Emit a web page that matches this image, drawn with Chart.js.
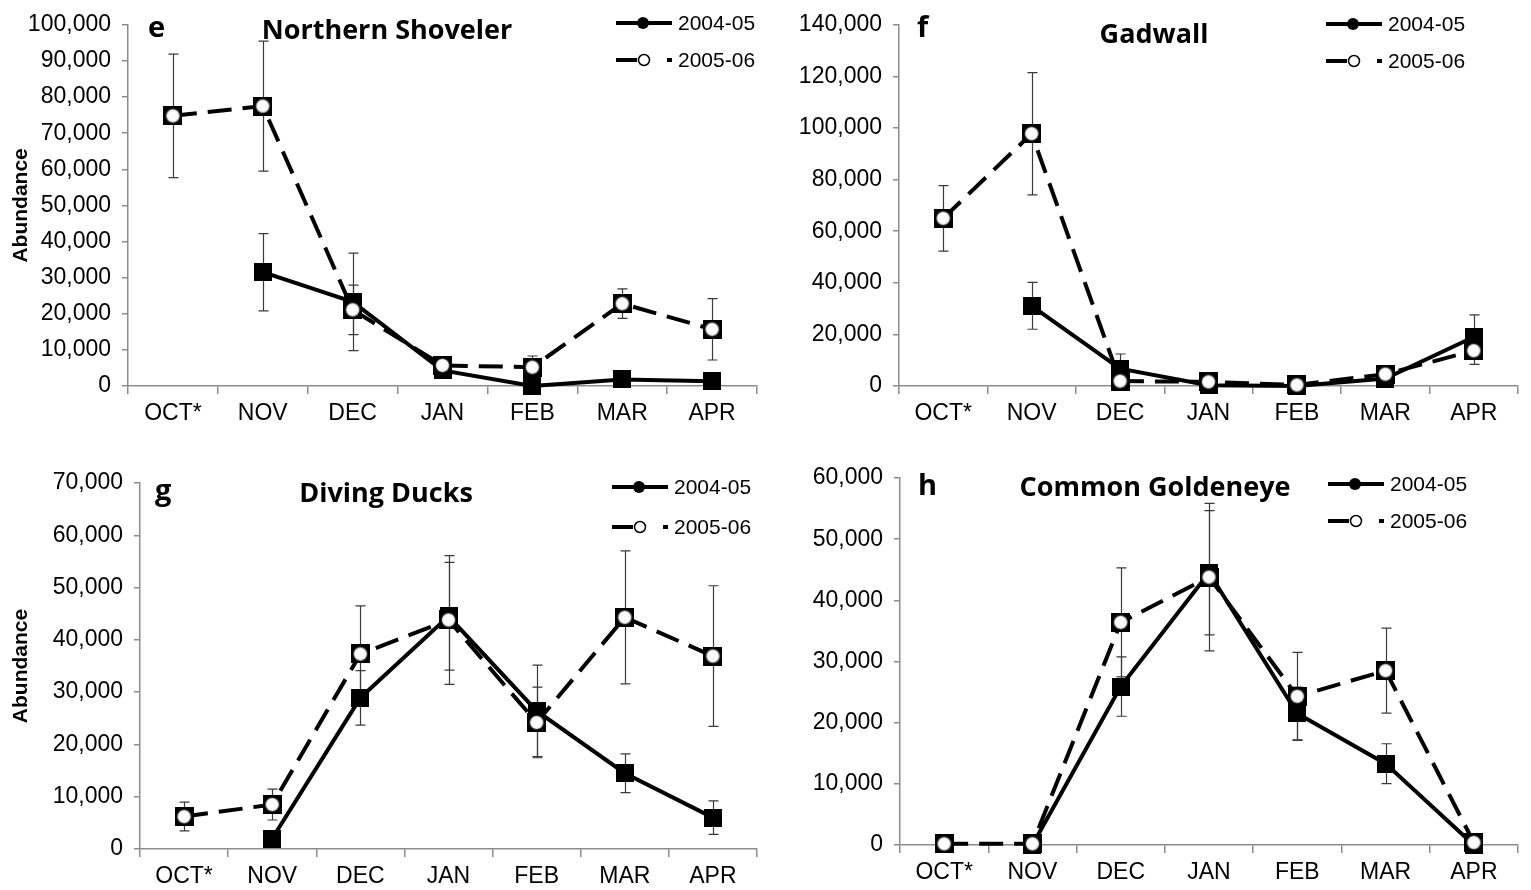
<!DOCTYPE html>
<html>
<head>
<meta charset="utf-8">
<title>Monthly waterfowl abundance, 2004-05 and 2005-06</title>
<script src="https://cdn.jsdelivr.net/npm/chart.js@4/dist/chart.umd.min.js"></script>
<style>
  html, body { margin: 0; padding: 0; background: #fff; }
  #wrap { position: relative; width: 1531px; height: 890px; overflow: hidden; }
  #wrap canvas { position: absolute; }
</style>
</head>
<body>
<div id="wrap">
  <canvas id="panelE" width="770" height="445" style="left:0;top:0"></canvas>
  <canvas id="panelF" width="761" height="445" style="left:770px;top:0"></canvas>
  <canvas id="panelG" width="770" height="445" style="left:0;top:445px"></canvas>
  <canvas id="panelH" width="761" height="445" style="left:770px;top:445px"></canvas>
</div>
<script>
// Survey months and seasons
const months = ['OCT*', 'NOV', 'DEC', 'JAN', 'FEB', 'MAR', 'APR'];
const seasons = ['2004-05', '2005-06'];

// e: Northern Shoveler (mean abundance and error-bar half-width)
const shovelerMean0405 = [null, 31500, 23300, 4300, 0, 1800, 1300];
const shovelerErr0405  = [null, 10700, 13500, 1000, 0, 600, 500];
const shovelerMean0506 = [74800, 77500, 21100, 5700, 5200, 22800, 15700];
const shovelerErr0506  = [17100, 18000, 6850, 1000, 3100, 4100, 8500];

// f: Gadwall
const gadwallMean0405 = [null, 31100, 6700, 300, 0, 2900, 19000];
const gadwallErr0405  = [null, 9100, 5700, 0, 0, 500, 8600];
const gadwallMean0506 = [65000, 97800, 1900, 1600, 400, 4600, 13700];
const gadwallErr0506  = [12700, 23700, 1000, 500, 300, 1000, 5300];

// g: Diving Ducks
const divingMean0405 = [null, 2000, 28900, 44500, 26400, 14500, 6000];
const divingErr0405  = [null, 800, 5200, 10300, 8750, 3700, 3200];
const divingMean0506 = [6200, 8500, 37300, 43800, 24200, 44300, 36900];
const divingErr0506  = [2750, 2950, 9200, 12300, 6750, 12700, 13450];

// h: Common Goldeneye
const goldeneyeMean0405 = [null, 0, 25900, 44500, 21500, 13300, 0];
const goldeneyeErr0405  = [null, 0, 4850, 10150, 4300, 3250, 0];
const goldeneyeMean0506 = [200, 200, 36400, 43800, 24300, 28500, 400];
const goldeneyeErr0506  = [0, 0, 8900, 12050, 7200, 6950, 0];

// Y-axis ranges (max, step)
const shovelerAxis  = [100000, 10000];
const gadwallAxis   = [140000, 20000];
const divingAxis    = [70000, 10000];
const goldeneyeAxis = [60000, 10000];

const TICK_FONT = "'Liberation Sans', Arial, sans-serif";
const TITLE_FONT = "'Open Sans', Lato, sans-serif";
const AXIS_GREY = '#8c8c8c';

// Marker images: solid square for 2004-05, square with white disc for 2005-06
function solidSquare(size) {
  const c = document.createElement('canvas');
  c.width = c.height = size;
  const g = c.getContext('2d');
  g.fillStyle = '#000';
  g.fillRect(0, 0, size, size);
  return c;
}
function squareWithDisc(size, r) {
  const c = document.createElement('canvas');
  c.width = c.height = size;
  const g = c.getContext('2d');
  g.fillStyle = '#000';
  g.fillRect(0, 0, size, size);
  const grad = g.createRadialGradient(size / 2 - 1, size / 2 - 1, 1, size / 2, size / 2, r);
  grad.addColorStop(0, '#ffffff');
  grad.addColorStop(0.7, '#fafafa');
  grad.addColorStop(1, '#d9d9d9');
  g.beginPath();
  g.arc(size / 2, size / 2, r, 0, Math.PI * 2);
  g.fillStyle = grad;
  g.fill();
  g.lineWidth = 1;
  g.strokeStyle = '#222';
  g.stroke();
  return c;
}
const markerA = solidSquare(18);
const markerB = squareWithDisc(19, 7);

// Vertical error bars, drawn under the lines and markers
const errorBars = {
  id: 'errorBars',
  beforeDatasetsDraw(chart) {
    const { ctx } = chart;
    const x = chart.scales.x, y = chart.scales.y;
    ctx.save();
    ctx.strokeStyle = '#3a3a3a';
    ctx.lineWidth = 1.2;
    chart.data.datasets.forEach(ds => {
      if (!ds.errors) return;
      ds.data.forEach((v, i) => {
        const e = ds.errors[i];
        if (v == null || !e) return;
        const px = Math.round(x.getPixelForValue(i)) + 0.5;
        const top = y.getPixelForValue(v + e);
        const bot = y.getPixelForValue(Math.max(v - e, 0));
        ctx.beginPath();
        ctx.moveTo(px, top); ctx.lineTo(px, bot);
        ctx.moveTo(px - 5, top); ctx.lineTo(px + 5, top);
        ctx.moveTo(px - 5, bot); ctx.lineTo(px + 5, bot);
        ctx.stroke();
      });
    });
    ctx.restore();
  }
};

// Panel letter, species title and the in-plot legend
const panelDecor = {
  id: 'panelDecor',
  afterDraw(chart, args, o) {
    const { ctx } = chart;
    ctx.save();
    ctx.fillStyle = '#000';
    ctx.textBaseline = 'alphabetic';
    ctx.font = 'bold 29px ' + TITLE_FONT;
    ctx.textAlign = 'left';
    ctx.fillText(o.letter, o.letterX, o.letterBase);
    ctx.font = 'bold 27px ' + TITLE_FONT;
    ctx.textAlign = 'center';
    ctx.fillText(o.title, o.titleX, o.titleBase);

    // legend
    const ds = chart.data.datasets;
    const lx = o.legendX - 62;
    ctx.font = '21px ' + TICK_FONT;
    ctx.textAlign = 'left';
    ctx.textBaseline = 'middle';
    ctx.strokeStyle = '#000';
    ctx.lineWidth = 4;
    // row 1: solid line with filled dot
    let ly = o.legendY[0];
    ctx.beginPath(); ctx.moveTo(lx, ly); ctx.lineTo(lx + 56, ly); ctx.stroke();
    ctx.beginPath(); ctx.arc(lx + 27, ly, 6, 0, Math.PI * 2); ctx.fillStyle = '#000'; ctx.fill();
    ctx.fillText(ds[0].label, o.legendX, ly + 1);
    // row 2: dashed line with open dot
    ly = o.legendY[1];
    ctx.beginPath(); ctx.moveTo(lx, ly); ctx.lineTo(lx + 21, ly); ctx.stroke();
    ctx.beginPath(); ctx.moveTo(lx + 51, ly); ctx.lineTo(lx + 56, ly); ctx.stroke();
    ctx.beginPath(); ctx.arc(lx + 28, ly, 5.5, 0, Math.PI * 2);
    ctx.fillStyle = '#fff'; ctx.fill();
    ctx.lineWidth = 1.5; ctx.stroke();
    ctx.fillStyle = '#000';
    ctx.fillText(ds[1].label, o.legendX, ly + 1);
    ctx.restore();
  }
};

function buildPanel(id, page, area, means, errs, axisRange, deco, showYTitle) {
  const canvas = document.getElementById(id);
  const W = canvas.width, H = canvas.height;
  const local = {
    letterX: deco.letterX - page.left, letterBase: deco.letterBase - page.top,
    titleX: deco.titleX - page.left, titleBase: deco.titleBase - page.top,
    legendX: deco.legendX - page.left,
    legendY: deco.legendY.map(y => y - page.top),
    letter: deco.letter, title: deco.title
  };
  const leftW = area.left - page.left;
  const bottomH = H - (area.bottom - page.top);
  return new Chart(canvas, {
    type: 'line',
    data: {
      labels: months,
      datasets: [
        {
          label: seasons[0], data: means[0], errors: errs[0],
          borderColor: '#000', borderWidth: 4, tension: 0,
          pointStyle: markerA, pointRadius: 9, clip: false, order: 1
        },
        {
          label: seasons[1], data: means[1], errors: errs[1],
          borderColor: '#000', borderWidth: 4, borderDash: [24, 11], tension: 0,
          pointStyle: markerB, pointRadius: 9, clip: false, order: 0
        }
      ]
    },
    options: {
      responsive: false,
      animation: false,
      devicePixelRatio: 1,
      events: [],
      layout: {
        padding: {
          top: area.top - page.top, right: W - (area.right - page.left), left: 0, bottom: 0
        }
      },
      scales: {
        x: {
          offset: true,
          grid: { offset: true, drawOnChartArea: false, tickLength: 8, color: AXIS_GREY, lineWidth: 1.5 },
          border: { color: AXIS_GREY, width: 1.5 },
          ticks: { color: '#000', font: { family: TICK_FONT, size: 23 }, padding: 6, autoSkip: false, maxRotation: 0 },
          afterFit: s => { s.height = bottomH; }
        },
        y: {
          min: 0, max: axisRange[0],
          grid: { drawOnChartArea: false, tickLength: 6, color: AXIS_GREY, lineWidth: 1.5 },
          border: { color: AXIS_GREY, width: 1.5 },
          ticks: {
            stepSize: axisRange[1], color: '#000', padding: 11,
            font: { family: TICK_FONT, size: 23 },
            callback: v => v.toLocaleString('en-US')
          },
          title: {
            display: showYTitle, text: 'Abundance', color: '#000',
            font: { family: TICK_FONT, size: 21, weight: 'bold' },
            padding: { top: 9, bottom: 0 }
          },
          afterFit: s => { s.width = leftW; }
        }
      },
      plugins: {
        legend: { display: false },
        tooltip: { enabled: false },
        panelDecor: local
      }
    },
    plugins: [errorBars, panelDecor]
  });
}

buildPanel('panelE', { left: 0, top: 0 }, { left: 128, right: 763, top: 19, bottom: 386 },
  [shovelerMean0405, shovelerMean0506], [shovelerErr0405, shovelerErr0506], shovelerAxis,
  { letter: 'e', letterX: 148, letterBase: 37, title: 'Northern Shoveler', titleX: 387, titleBase: 39,
    legendX: 678, legendY: [23, 60] }, true);

buildPanel('panelF', { left: 770, top: 0 }, { left: 899, right: 1531, top: 18, bottom: 386 },
  [gadwallMean0405, gadwallMean0506], [gadwallErr0405, gadwallErr0506], gadwallAxis,
  { letter: 'f', letterX: 917, letterBase: 37, title: 'Gadwall', titleX: 1154, titleBase: 43,
    legendX: 1388, legendY: [24, 61] }, false);

buildPanel('panelG', { left: 0, top: 445 }, { left: 140, right: 765, top: 483, bottom: 849 },
  [divingMean0405, divingMean0506], [divingErr0405, divingErr0506], divingAxis,
  { letter: 'g', letterX: 155, letterBase: 500, title: 'Diving Ducks', titleX: 386, titleBase: 502,
    legendX: 674, legendY: [487, 527] }, true);

buildPanel('panelH', { left: 770, top: 445 }, { left: 900, right: 1530, top: 478, bottom: 845 },
  [goldeneyeMean0405, goldeneyeMean0506], [goldeneyeErr0405, goldeneyeErr0506], goldeneyeAxis,
  { letter: 'h', letterX: 918, letterBase: 495, title: 'Common Goldeneye', titleX: 1155, titleBase: 496,
    legendX: 1390, legendY: [484, 521] }, false);
</script>
</body>
</html>
